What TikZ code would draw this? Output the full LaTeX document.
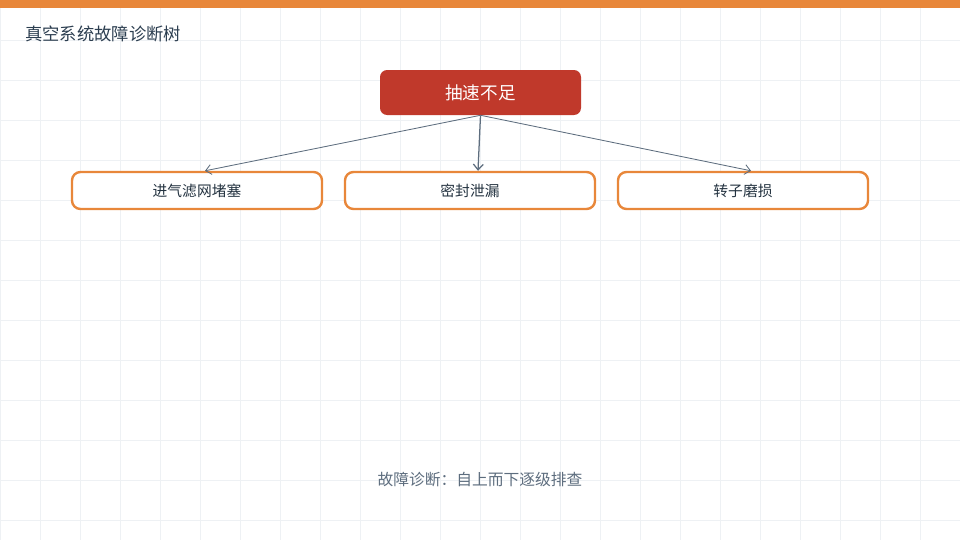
\documentclass[tikz,border=0pt]{standalone}
\usepackage{fontspec}
\setmainfont{Noto Sans CJK SC}
\usetikzlibrary{arrows.meta,positioning,calc}
\definecolor{barorange}{HTML}{E8873A}
\definecolor{rootred}{HTML}{C0392B}
\definecolor{navy}{HTML}{2C3E50}
\definecolor{linkgray}{HTML}{5D6D7E}
\definecolor{gridgray}{HTML}{EEF1F4}
\tikzset{
  root/.style={rectangle, rounded corners=5pt, fill=rootred, text=white, minimum width=201*0.025cm, minimum height=45*0.025cm, font=\fontsize{12.5}{14}\selectfont, inner sep=0pt},
  cause/.style={rectangle, rounded corners=6pt, draw=barorange, line width=1.7pt, fill=white, text=navy!80!black, minimum width=250*0.025cm, minimum height=37*0.025cm, font=\fontsize{10.5}{12}\selectfont, inner sep=0pt},
  link/.style={draw=linkgray, line width=0.6pt, -{Straight Barb[length=4pt,width=7pt]}}
}
\begin{document}
\begin{tikzpicture}[x=0.025cm,y=-0.025cm]
    \useasboundingbox (0,0) rectangle (960,540);
    \draw[gridgray, step=40*0.025cm] (0,0) grid (960,540);
    \fill[barorange] (0,0) rectangle (960,8);
    \node[anchor=west, text=navy, font=\fontsize{12.3}{14}\selectfont, inner sep=0pt] (title) at (25,34) {真空系统故障诊断树};

    \node[root] (r) at (480.5,92.5) {抽速不足};
    \node[cause] (c1) at (197,190.5) {进气滤网堵塞};
    \node[cause] (c2) at (470,190.5) {密封泄漏};
    \node[cause] (c3) at (743,190.5) {转子磨损};

    \coordinate (e1) at ($(c1.north)+(8,0)$);
    \coordinate (e2) at ($(c2.north)+(8,0)$);
    \coordinate (e3) at ($(c3.north)+(8,0)$);
    \draw[link] (r.south) -- (e1);
    \draw[link, line width=0.9pt] (r.south) -- (e2);
    \draw[link] (r.south) -- (e3);

    \node[text=linkgray, font=\fontsize{11.2}{13}\selectfont] (note) at (480,480) {故障诊断：自上而下逐级排查};
\end{tikzpicture}
\end{document}
